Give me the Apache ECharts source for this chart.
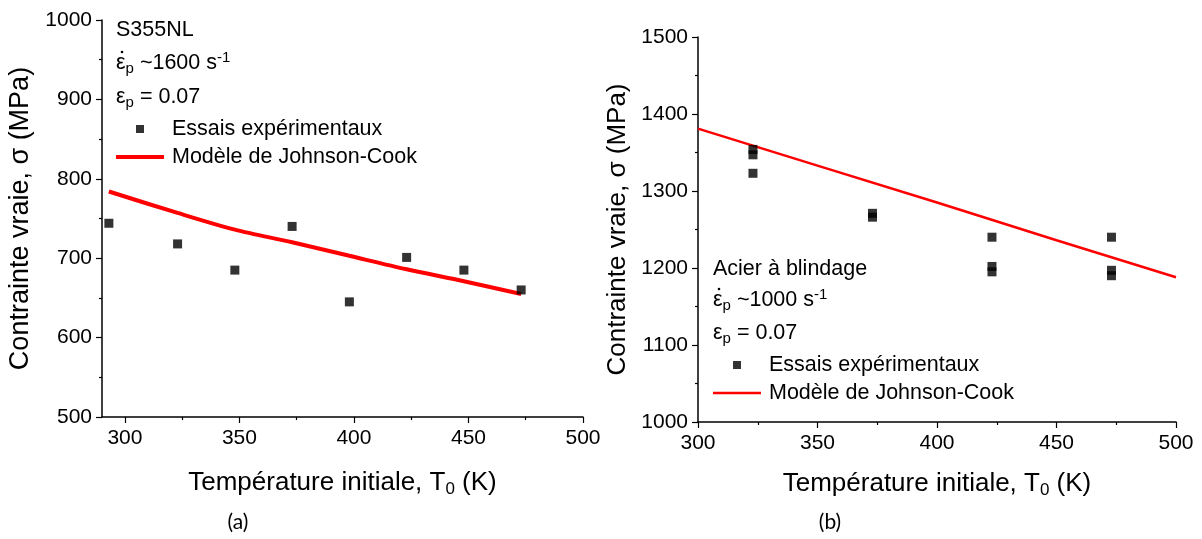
<!DOCTYPE html>
<html>
<head>
<meta charset="utf-8">
<script src="https://cdn.jsdelivr.net/npm/echarts@6/dist/echarts.min.js"></script>
<style>
html,body{margin:0;padding:0;background:#fff;}
#chart{width:1202px;height:539px;}
</style>
</head>
<body>
<div id="chart"></div>
<script>
// ---- Data: (a) S355NL ----
const tempA = [293, 323, 348, 373, 398, 423, 448, 473];
const stressA = [744, 718, 685, 740, 645, 701, 685, 660];
const jcTempA = [293, 323, 348, 373, 398, 423, 448, 473];
const jcStressA = [784, 757, 736, 720, 703, 686, 671, 655];

// ---- Data: (b) Acier à blindage ----
const tempB = [323, 323, 323, 373, 373, 423, 423, 423, 473, 473, 473];
const stressB = [1354, 1347, 1323, 1271, 1266, 1240, 1202, 1195, 1240, 1197, 1190];
const jcTempB = [300, 350, 400, 450, 500];
const jcStressB = [1381, 1333, 1285, 1236, 1188];

// ---- Tick values ----
const xMajorA = [300, 350, 400, 450, 500];
const xMinorA = [325, 375, 425, 475];

const seriesExp = 'Essais expérimentaux';
const seriesJC = 'Modèle de Johnson-Cook';

const FONT = 'Liberation Sans';
const zip = (a, b) => a.map((v, i) => [v, b[i]]);

const chart = echarts.init(document.getElementById('chart'), null, {renderer: 'canvas'});

const axisLineStyle = {lineStyle: {color: '#000', width: 1.5}};
const tickStyle = {lineStyle: {color: '#000', width: 1.2}};
const plain = v => String(v);
const labelStyle = {color: '#000', fontSize: 21, fontFamily: FONT, formatter: plain};
const nameStyleX = {
  color: '#000', fontSize: 26, fontFamily: FONT,
  rich: {sub: {fontSize: 17, fontFamily: FONT, color: '#000', padding: [13, 0, 0, 0]}}
};

const sq = 'path://M0,0H10V10H0Z';
const lineIconA = 'path://M0,0H48V4H0Z';
const lineIconB = 'path://M0,0H48V2.5H0Z';

const option = {
  animation: false,
  backgroundColor: '#fff',
  grid: [
    {left: 102, top: 20, width: 481, height: 397},
    {left: 698, top: 37, width: 478, height: 385}
  ],
  xAxis: [
    {
      gridIndex: 0, type: 'value', min: 290, max: 500, position: 'bottom',
      axisLine: axisLineStyle,
      axisTick: Object.assign({length: 6, customValues: xMajorA}, tickStyle),
      axisLabel: Object.assign({margin: 11, customValues: xMajorA}, labelStyle),
      splitLine: {show: false},
      name: 'Température initiale, T{sub|0} (K)',
      nameLocation: 'middle', nameGap: 51, nameTextStyle: nameStyleX
    },
    {
      gridIndex: 0, type: 'value', min: 290, max: 500, position: 'bottom',
      axisLine: {show: false},
      axisTick: Object.assign({length: 3, customValues: xMinorA}, tickStyle),
      axisLabel: {show: false},
      splitLine: {show: false}
    },
    {
      gridIndex: 1, type: 'value', min: 300, max: 500, interval: 50, position: 'bottom',
      axisLine: axisLineStyle,
      axisTick: Object.assign({length: 6}, tickStyle),
      minorTick: {show: true, splitNumber: 2, length: 3, lineStyle: {color: '#000', width: 1.2}},
      axisLabel: Object.assign({margin: 11}, labelStyle),
      splitLine: {show: false},
      name: 'Température initiale, T{sub|0} (K)',
      nameLocation: 'middle', nameGap: 47, nameTextStyle: nameStyleX
    }
  ],
  yAxis: [
    {
      gridIndex: 0, type: 'value', min: 500, max: 1000, interval: 100,
      axisLine: Object.assign({show: true}, axisLineStyle),
      axisTick: Object.assign({show: true, length: 6}, tickStyle),
      minorTick: {show: true, splitNumber: 2, length: 3, lineStyle: {color: '#000', width: 1.2}},
      axisLabel: Object.assign({margin: 10}, labelStyle),
      splitLine: {show: false},
      name: 'Contrainte vraie, σ (MPa)',
      nameLocation: 'middle', nameRotate: 90, nameGap: 68,
      nameTextStyle: {color: '#000', fontSize: 27, fontFamily: FONT}
    },
    {
      gridIndex: 1, type: 'value', min: 1000, max: 1500, interval: 100,
      axisLine: Object.assign({show: true}, axisLineStyle),
      axisTick: Object.assign({show: true, length: 6}, tickStyle),
      minorTick: {show: true, splitNumber: 2, length: 3, lineStyle: {color: '#000', width: 1.2}},
      axisLabel: Object.assign({margin: 10}, labelStyle),
      splitLine: {show: false},
      name: 'Contrainte vraie, σ (MPa)',
      nameLocation: 'middle', nameRotate: 90, nameGap: 67,
      nameTextStyle: {color: '#000', fontSize: 26, fontFamily: FONT}
    }
  ],
  legend: [
    {
      orient: 'vertical', left: 116, top: 118, padding: 0, itemWidth: 48, itemHeight: 8, itemGap: 6,
      textStyle: {color: '#000', fontSize: 21.5, fontFamily: FONT, padding: [0, 0, 0, 3]},
      selectedMode: false,
      data: [
        {name: seriesExp, icon: sq, itemStyle: {color: '#000'}},
        {name: seriesJC, icon: lineIconA, itemStyle: {color: '#ff0000'}}
      ]
    },
    {
      orient: 'vertical', left: 713, top: 354, padding: 0, itemWidth: 48, itemHeight: 8, itemGap: 6,
      textStyle: {color: '#000', fontSize: 21.5, fontFamily: FONT, padding: [0, 0, 0, 3]},
      selectedMode: false,
      data: [
        {name: seriesExp, icon: sq, itemStyle: {color: '#000'}},
        {name: seriesJC, icon: lineIconB, itemStyle: {color: '#ff0000'}}
      ]
    }
  ],
  series: [
    {
      name: seriesJC, type: 'line', xAxisIndex: 0, yAxisIndex: 0,
      data: zip(jcTempA, jcStressA), symbol: 'none', smooth: 0.3,
      lineStyle: {color: '#ff0000', width: 4}, itemStyle: {color: '#ff0000'}, z: 2
    },
    {
      name: seriesExp, type: 'scatter', xAxisIndex: 0, yAxisIndex: 0,
      data: zip(tempA, stressA), symbol: 'rect', symbolSize: 9,
      itemStyle: {color: '#000'}, z: 3
    },
    {
      name: seriesJC, type: 'line', xAxisIndex: 2, yAxisIndex: 1,
      data: zip(jcTempB, jcStressB), symbol: 'none',
      lineStyle: {color: '#ff0000', width: 2.5}, itemStyle: {color: '#ff0000'}, z: 2
    },
    {
      name: seriesExp, type: 'scatter', xAxisIndex: 2, yAxisIndex: 1,
      data: zip(tempB, stressB), symbol: 'rect', symbolSize: 9,
      itemStyle: {color: '#000'}, z: 3
    }
  ],
  graphic: []
};

const richAnn = {
  sub: {fontSize: 15, fontFamily: FONT, fill: '#000', color: '#000', padding: [12, 0, 0, 0]},
  sup: {fontSize: 15, fontFamily: FONT, fill: '#000', color: '#000', padding: [0, 0, 10, 0]}
};
function ann(x, y, text) {
  return {
    type: 'text', x: x, y: y, silent: true,
    style: {
      text: text, fill: '#000', fontSize: 21.5, fontFamily: FONT,
      verticalAlign: 'middle', align: 'left', rich: richAnn
    }
  };
}
function dot(x, y) {
  return {type: 'circle', silent: true, shape: {cx: x, cy: y, r: 1.3}, style: {fill: '#000'}};
}
option.graphic = [
  ann(116, 30, 'S355NL'),
  ann(116, 63, 'ε{sub|p} ~1600 s{sup|-1}'),
  dot(122, 52),
  ann(116, 97, 'ε{sub|p} = 0.07'),
  ann(713, 269, 'Acier à blindage'),
  ann(713, 300, 'ε{sub|p} ~1000 s{sup|-1}'),
  dot(719, 289),
  ann(713, 333, 'ε{sub|p} = 0.07'),
  {
    type: 'text', x: 238, y: 522, silent: true,
    style: {text: '(a)', fill: '#000', fontSize: 21, fontFamily: 'Lato', align: 'center', verticalAlign: 'middle'}
  },
  {
    type: 'text', x: 830, y: 522, silent: true,
    style: {text: '(b)', fill: '#000', fontSize: 21, fontFamily: 'Lato', align: 'center', verticalAlign: 'middle'}
  }
];

chart.setOption(option);
</script>
</body>
</html>
